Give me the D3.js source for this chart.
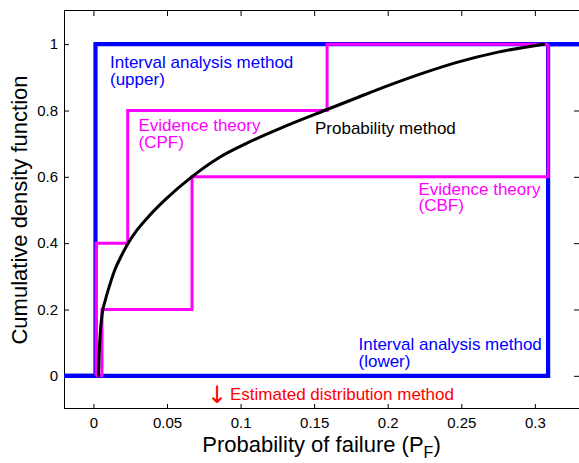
<!DOCTYPE html>
<html>
<head>
<meta charset="utf-8">
<script src="https://cdn.jsdelivr.net/npm/d3@7"></script>
<style>
  html, body { margin: 0; padding: 0; background: #fff; }
  svg { display: block; }
  text { font-family: "Liberation Sans", Arial, Helvetica, sans-serif; }
</style>
</head>
<body>
<svg id="chart" width="579" height="463"></svg>
<script>
// ---------- data ----------
const xTicks = [0, 0.05, 0.1, 0.15, 0.2, 0.25, 0.3];
const xTickLabels = ["0", "0.05", "0.1", "0.15", "0.2", "0.25", "0.3"];
const yTicks = [0, 0.2, 0.4, 0.6, 0.8, 1];
const yTickLabels = ["0", "0.2", "0.4", "0.6", "0.8", "1"];

// Probability method (CDF curve)
const probX = [0.0035, 0.0037, 0.0041, 0.0048, 0.0059, 0.0082, 0.0111, 0.0145, 0.0190, 0.0236,
               0.0292, 0.0380, 0.0490, 0.0668, 0.0850, 0.1050, 0.1300, 0.1588, 0.1800, 0.2016,
               0.2250, 0.2470, 0.2750, 0.3060];
const probY = [0.000, 0.037, 0.087, 0.138, 0.186, 0.230, 0.274, 0.319, 0.362, 0.400,
               0.437, 0.483, 0.532, 0.600, 0.657, 0.703, 0.752, 0.803, 0.840, 0.877,
               0.914, 0.945, 0.976, 1.000];

// Interval analysis method (step bounds, stepAfter vertices)
const intervalUpperX = [-0.02, 0.0014, 0.33];
const intervalUpperY = [0, 1, 1];
const intervalLowerX = [-0.02, 0.309, 0.33];
const intervalLowerY = [0, 1, 1];

// Evidence theory (stepAfter vertices)
const cpfX = [0.0018, 0.0018, 0.0233, 0.1588, 0.309];
const cpfY = [0, 0.4, 0.8, 1.0, 1.0];
const cbfX = [0.0018, 0.0058, 0.067, 0.309];
const cbfY = [0, 0.2, 0.6, 1.0];

// ---------- layout ----------
const svg = d3.select("#chart");
const mLeft = 64, mRight = 579, mTop = 11, mBottom = 409;
const x = d3.scaleLinear().domain([-0.02, 0.33]).range([mLeft, mRight]);
const y = d3.scaleLinear().domain([-0.1, 1.1]).range([mBottom, mTop]);

const BLUE = "#0000ff", MAG = "#ff00ff", RED = "#ff0000";

// axes (ticks inside, MATLAB style)
const fmtX = d => xTickLabels[xTicks.indexOf(d)];
const fmtY = d => yTickLabels[yTicks.indexOf(d)];

const gB = svg.append("g").attr("transform", `translate(0,${mBottom})`)
  .call(d3.axisBottom(x).tickValues(xTicks).tickFormat(fmtX).tickSize(-5).tickPadding(8));
const gT = svg.append("g").attr("transform", `translate(0,${mTop})`)
  .call(d3.axisTop(x).tickValues(xTicks).tickFormat("").tickSize(-5));
const gL = svg.append("g").attr("transform", `translate(${mLeft},0)`)
  .call(d3.axisLeft(y).tickValues(yTicks).tickFormat(fmtY).tickSize(-5).tickPadding(6));
const gR = svg.append("g").attr("transform", `translate(${mRight},0)`)
  .call(d3.axisRight(y).tickValues(yTicks).tickFormat("").tickSize(-5));

[gB, gT, gL, gR].forEach(g => {
  g.select(".domain").remove();
  g.selectAll(".tick line").attr("stroke", "#000").attr("stroke-width", 1);
  g.selectAll(".tick text").attr("fill", "#000").style("font-size", "15px")
    .style("font-family", '"Liberation Sans", Arial, Helvetica, sans-serif');
});

svg.append("rect")
  .attr("x", mLeft + 0.5).attr("y", mTop - 0.5)
  .attr("width", mRight - mLeft).attr("height", mBottom - mTop)
  .attr("fill", "none").attr("stroke", "#000").attr("stroke-width", 1);

const plot = svg.append("g");

const stepLine = d3.line().x(d => x(d[0])).y(d => y(d[1])).curve(d3.curveStepAfter);
const zip = (a, b) => a.map((v, i) => [v, b[i]]);

// Interval analysis bounds (blue)
plot.append("path").datum(zip(intervalLowerX, intervalLowerY))
  .attr("d", stepLine).attr("fill", "none").attr("stroke", BLUE)
  .attr("stroke-width", 4.2).attr("stroke-linejoin", "miter");
plot.append("path").datum(zip(intervalUpperX, intervalUpperY))
  .attr("d", stepLine).attr("fill", "none").attr("stroke", BLUE)
  .attr("stroke-width", 4.2).attr("stroke-linejoin", "miter");

// Evidence theory (magenta)
plot.append("path").datum(zip(cpfX, cpfY))
  .attr("d", stepLine).attr("fill", "none").attr("stroke", MAG)
  .attr("stroke-width", 3).attr("stroke-linejoin", "miter");
plot.append("path").datum(zip(cbfX, cbfY))
  .attr("d", stepLine).attr("fill", "none").attr("stroke", MAG)
  .attr("stroke-width", 3).attr("stroke-linejoin", "miter");

// Probability method (black)
const curveLine = d3.line().x(d => x(d[0])).y(d => y(d[1])).curve(d3.curveMonotoneX);
plot.append("path").datum(zip(probX, probY))
  .attr("d", curveLine).attr("fill", "none").attr("stroke", "#000")
  .attr("stroke-width", 3).attr("stroke-linecap", "round");

// ---------- labels ----------
function twoLine(xp, yp, l1, l2, color, gap) {
  const t = svg.append("text").attr("x", xp).attr("y", yp)
    .attr("fill", color).style("font-size", "17px");
  t.append("tspan").attr("x", xp).text(l1);
  if (l2) t.append("tspan").attr("x", xp).attr("dy", gap).text(l2);
}
twoLine(110, 68, "Interval analysis method", "(upper)", BLUE, 16.5);
twoLine(138.5, 131, "Evidence theory", "(CPF)", MAG, 16.5);
twoLine(315, 133.5, "Probability method", null, "#000", 0);
twoLine(418.5, 194.5, "Evidence theory", "(CBF)", MAG, 16.5);
twoLine(358.5, 350, "Interval analysis method", "(lower)", BLUE, 16.5);

// estimated distribution method annotation
const red = svg.append("text").attr("x", 207).attr("y", 403).attr("fill", RED)
  .style("font-size", "17px");
red.append("tspan").style("font-family", '"DejaVu Sans", sans-serif')
  .style("font-size", "24px").text("\u2193");
red.append("tspan").attr("x", 230).attr("y", 400).text("Estimated distribution method");

// axis titles
const xt = svg.append("text").attr("x", (mLeft + mRight) / 2).attr("y", 452)
  .attr("text-anchor", "middle").attr("fill", "#000").style("font-size", "22px");
xt.append("tspan").text("Probability of failure (P");
xt.append("tspan").attr("dy", 6).style("font-size", "16px").text("F");
xt.append("tspan").attr("dy", -6).text(")");

svg.append("text")
  .attr("transform", `translate(27,${(mTop + mBottom) / 2}) rotate(-90)`)
  .attr("text-anchor", "middle").attr("fill", "#000").style("font-size", "22px")
  .text("Cumulative density function");
</script>
</body>
</html>
